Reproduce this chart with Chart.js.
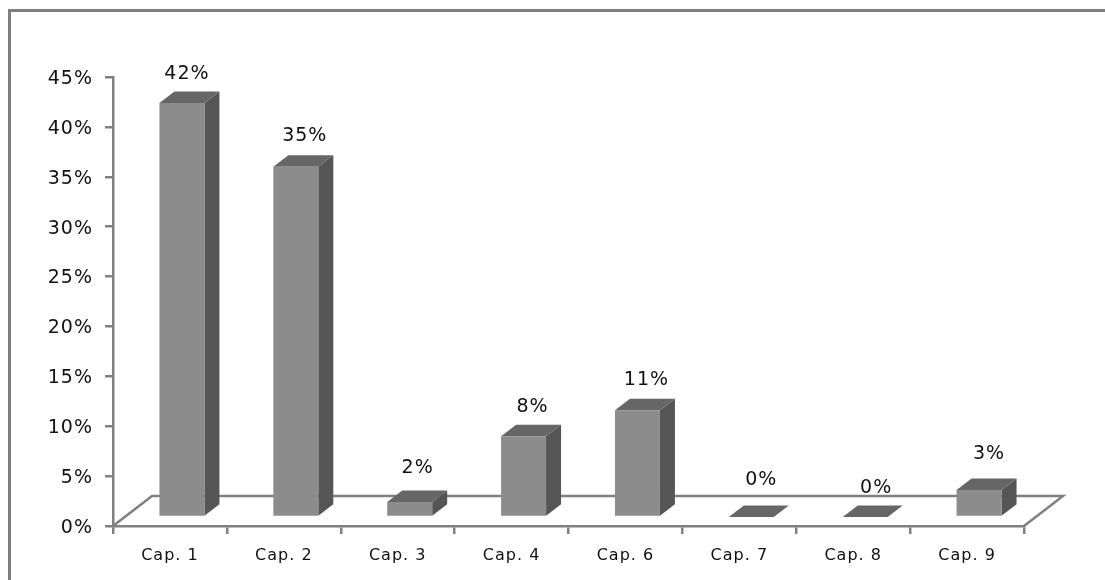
<!DOCTYPE html>
<html lang="en">
<head>
    <meta charset="UTF-8">
    <title>Cap. chart</title>
    <script src="https://cdn.jsdelivr.net/npm/chart.js"></script>
    <style>
        html, body {
            margin: 0;
            background: #ffffff;
            overflow: hidden;
        }

        #frame {
            position: absolute;
            left: 8px;
            top: 9px;
            width: 1097px;
            height: 571px;
            border-left: 3px solid #7f7f7f;
            border-top: 3px solid #7f7f7f;
        }

        #myChart {
            position: absolute;
            left: 0;
            top: 0;
        }
    </style>
</head>
<body>
    <div id="frame"></div>
    <canvas id="myChart" width="1105" height="580"></canvas>

    <script>
        const categories = ['Cap. 1', 'Cap. 2', 'Cap. 3', 'Cap. 4', 'Cap. 6', 'Cap. 7', 'Cap. 8', 'Cap. 9'];
        const percentValues = [41.5, 35.1, 1.5, 8.1, 10.7, 0, 0, 2.7];

        // the original labels were moved by hand, so each one has its own nudge (px)
        const labelNudgeX = [5, 9, 8, 9, 9, 10, 11, 10];
        const labelNudgeY = [3, 1, -2, 2, 1, -5, 3, -4];

        const LINE = '#808080';
        const TEXT = '#111111';
        const FONT = '"DejaVu Sans", sans-serif';

        // 3d look: floor depth, where bars stand on it, and the depth of one bar
        const floor = { dx: 39, dy: 30 };
        const stand = { dx: 12, dy: 9 };
        const depth = { dx: 15, dy: 11.5 };

        const floorPlugin = {
            id: 'floor',
            beforeDraw(chart) {
                // reference text is wide, the ticks pick this up as well
                chart.ctx.letterSpacing = '1px';
            },
            beforeDatasetsDraw(chart) {
                const { ctx, chartArea: a } = chart;
                ctx.save();
                ctx.strokeStyle = LINE;
                ctx.lineWidth = 2.5;
                ctx.beginPath();
                ctx.moveTo(a.left, a.bottom);
                ctx.lineTo(a.left + floor.dx, a.bottom - floor.dy);
                ctx.lineTo(a.right + floor.dx, a.bottom - floor.dy);
                ctx.lineTo(a.right, a.bottom);
                ctx.stroke();
                ctx.restore();
            }
        };

        const barsPlugin = {
            id: 'bars3d',
            beforeDatasetDraw(chart) {
                const ctx = chart.ctx;
                ctx.save();
                ctx.translate(stand.dx, -stand.dy);
                chart.getDatasetMeta(0).data.forEach(bar => {
                    const p = bar.getProps(['x', 'y', 'base', 'width'], true);
                    const l = p.x - p.width / 2;
                    const r = p.x + p.width / 2;

                    ctx.fillStyle = '#555555';
                    ctx.beginPath();
                    ctx.moveTo(r, p.y);
                    ctx.lineTo(r + depth.dx, p.y - depth.dy);
                    ctx.lineTo(r + depth.dx, p.base - depth.dy);
                    ctx.lineTo(r, p.base);
                    ctx.fill();

                    ctx.fillStyle = '#666666';
                    ctx.beginPath();
                    ctx.moveTo(l, p.y);
                    ctx.lineTo(l + depth.dx, p.y - depth.dy);
                    ctx.lineTo(r + depth.dx, p.y - depth.dy);
                    ctx.lineTo(r, p.y);
                    ctx.fill();
                });
            },
            afterDatasetDraw(chart) {
                chart.ctx.restore();
            },
            afterDatasetsDraw(chart) {
                const ctx = chart.ctx;
                ctx.save();
                ctx.fillStyle = TEXT;
                ctx.font = '19px ' + FONT;
                ctx.textAlign = 'center';
                ctx.textBaseline = 'middle';
                chart.getDatasetMeta(0).data.forEach((bar, i) => {
                    const x = bar.x + stand.dx + labelNudgeX[i];
                    const y = bar.y - stand.dy - depth.dy - 20 + labelNudgeY[i];
                    ctx.fillText(Math.round(percentValues[i]) + '%', x, y);
                });
                ctx.restore();
            }
        };

        new Chart(document.getElementById('myChart'), {
            type: 'bar',
            data: {
                labels: categories,
                datasets: [{
                    data: percentValues,
                    backgroundColor: '#8c8c8c',
                    barPercentage: 0.395,
                    categoryPercentage: 1
                }]
            },
            plugins: [floorPlugin, barsPlugin],
            options: {
                responsive: false,
                animation: false,
                layout: { padding: { top: 77, right: 81 } },
                plugins: {
                    legend: { display: false },
                    tooltip: { enabled: false }
                },
                scales: {
                    x: {
                        afterFit(s) { s.height = 54; },
                        grid: { drawOnChartArea: false, color: LINE, lineWidth: 2.5, tickLength: 8 },
                        border: { color: LINE, width: 2.5 },
                        ticks: { color: TEXT, padding: 12, font: { family: FONT, size: 16 } }
                    },
                    y: {
                        min: 0,
                        max: 45,
                        afterFit(s) { s.width = 113; },
                        grid: { drawOnChartArea: false, color: LINE, lineWidth: 2.5, tickLength: 8 },
                        border: { color: LINE, width: 2.5 },
                        ticks: {
                            stepSize: 5,
                            color: TEXT,
                            padding: 12,
                            labelOffset: 2,
                            font: { family: FONT, size: 19 },
                            callback: v => v + '%'
                        }
                    }
                }
            }
        });
    </script>
</body>
</html>
